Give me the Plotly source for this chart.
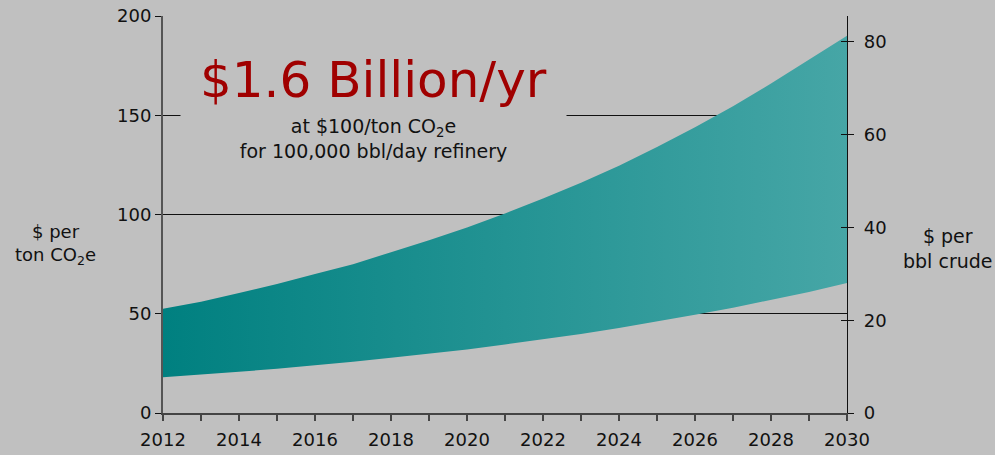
import plotly.graph_objects as go

years = list(range(2012, 2031))
upper = [52.5, 56, 60.5, 65, 70, 75, 81, 87, 93.5, 100.5, 108, 116, 124.5, 134, 144, 154.5, 166, 178, 190]
lower = [18, 19.3, 20.8, 22.3, 24, 25.8, 27.8, 29.9, 32, 34.5, 37, 39.8, 42.8, 46, 49.5, 53, 57, 61, 65.5]
x_tick_labels = [str(y) if y % 2 == 0 else "" for y in years]
left_ticks = [0, 50, 100, 150, 200]
right_ticks = [0, 20, 40, 60, 80]

BG = "#c0c0c0"
FONT = "DejaVu Sans"

fig = go.Figure()
fig.add_trace(go.Scatter(x=years, y=lower, mode="lines", line=dict(width=0),
                         showlegend=False, hoverinfo="skip"))
fig.add_trace(go.Scatter(x=years, y=upper, mode="lines", line=dict(width=0),
                         fill="tonexty",
                         fillgradient=dict(type="horizontal",
                                           colorscale=[[0, "#008080"], [1, "#46a6a6"]]),
                         showlegend=False, hoverinfo="skip"))
# invisible traces to activate right-hand axes
fig.add_trace(go.Scatter(x=years, y=[v / 2.336 for v in lower], yaxis="y2", mode="lines",
                         line=dict(width=0), opacity=0, showlegend=False, hoverinfo="skip"))
fig.add_trace(go.Scatter(x=years, y=[v / 2.336 for v in lower], yaxis="y3", mode="lines",
                         line=dict(width=0), opacity=0, showlegend=False, hoverinfo="skip"))

fig.update_layout(
    width=995, height=455,
    paper_bgcolor=BG, plot_bgcolor=BG,
    margin=dict(l=163, r=148, t=16, b=42, autoexpand=False),
    font=dict(family=FONT, size=18, color="#111111"),
    xaxis=dict(range=[2012, 2030], tickmode="array", tickvals=years, ticktext=x_tick_labels,
               ticks="outside", ticklen=6, tickcolor="#444444", tickwidth=1.5,
               showline=True, linecolor="#444444", linewidth=1.5, showgrid=False,
               zeroline=False, tickfont=dict(size=18), automargin=False,
               ticklabelstandoff=4),
    yaxis=dict(range=[0, 200], tickmode="array", tickvals=left_ticks,
               ticks="outside", ticklen=6, tickcolor="#111111",
               showline=True, linecolor="#555555", linewidth=2,
               showgrid=True, gridcolor="#111111", gridwidth=1, zeroline=False,
               tickfont=dict(size=18), automargin=False),
    yaxis2=dict(range=[0, 85.6], overlaying="y", side="right", tickmode="array",
                tickvals=right_ticks, ticks="outside", ticklen=6, tickcolor="#111111",
                showline=True, linecolor="#111111", linewidth=1.2, showgrid=False,
                zeroline=False, tickfont=dict(size=18), automargin=False,
                ticklabelstandoff=6),
    yaxis3=dict(range=[0, 85.6], overlaying="y", side="right", tickmode="array",
                tickvals=right_ticks, ticks="inside", ticklen=6, tickcolor="#111111",
                showticklabels=False, showline=False, showgrid=False, zeroline=False,
                automargin=False),
)

fig.add_annotation(xref="paper", yref="paper", x=(373 - 163) / 684, y=(413 - 80) / 397,
                   xanchor="center", yanchor="middle",
                   text="$1.6 Billion/yr", showarrow=False,
                   font=dict(family=FONT, size=50, color="#a00000"))
fig.add_annotation(xref="paper", yref="paper", x=(373.5 - 163) / 684, y=(413 - 138) / 397,
                   xanchor="center", yanchor="middle",
                   text="at $100/ton CO<sub>2</sub>e<br>for 100,000 bbl/day refinery",
                   showarrow=False, bgcolor=BG, width=383, align="center",
                   font=dict(family=FONT, size=19, color="#111111"))
fig.add_annotation(xref="paper", yref="paper", x=(55 - 163) / 684, y=(413 - 244) / 397,
                   xanchor="center", yanchor="middle",
                   text="$ per<br>ton CO<sub>2</sub>e", showarrow=False, align="center",
                   font=dict(family=FONT, size=18, color="#111111"))
fig.add_annotation(xref="paper", yref="paper", x=(948 - 163) / 684, y=(413 - 248) / 397,
                   xanchor="center", yanchor="middle",
                   text="$ per<br>bbl crude", showarrow=False, align="center",
                   font=dict(family=FONT, size=19, color="#111111"))

fig.write_html("out.html")
